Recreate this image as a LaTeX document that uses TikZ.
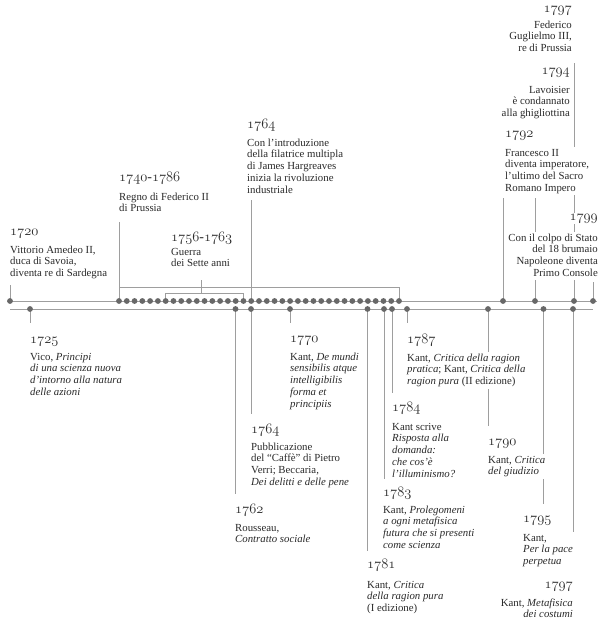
\documentclass[tikz,border=0pt]{standalone}
\usepackage{fontspec}
\setmainfont{Liberation Serif}
\usetikzlibrary{backgrounds}
\definecolor{txt}{HTML}{2A2A2A}
\definecolor{ln}{HTML}{9E9E9E}
\definecolor{dotc}{HTML}{686868}
\newcommand\lblL[1]{\begin{tabular}[t]{@{}l@{}}#1\end{tabular}}
\newcommand\lblR[1]{\begin{tabular}[t]{@{}r@{}}#1\end{tabular}}
\newcommand\yr[1]{{\usefont{OML}{cmm}{m}{it}#1}}
\begin{document}
\begin{tikzpicture}[x=1pt,y=-1pt,
  yearL/.style={anchor=base west, font=\fontsize{14}{14}\selectfont, text=txt, fill=white, inner xsep=1pt, inner ysep=1pt},
  yearR/.style={yearL, anchor=base east},
  descL/.style={anchor=base west, font=\fontsize{10.8}{11.8}\selectfont, text=txt, fill=white, inner xsep=1pt, inner ysep=0.5pt},
  descR/.style={descL, anchor=base east},
  conn/.style={draw=ln, line width=0.9pt},
  axis/.style={draw=ln, line width=1pt},
  dotfill/.style={fill=dotc}
]
\useasboundingbox (0,0) rectangle (600,622);

% ---------- dot coordinates ----------
\coordinate (u1720) at (10,301);
\foreach \k in {0,...,36} \coordinate (ub\k) at ({119+\k*7.778},301);
\coordinate (u1792) at (503,301);
\coordinate (u1794) at (535,301);
\coordinate (u1797) at (574,301);
\coordinate (u1799) at (593,301);
\coordinate (l1725) at (30,309);
\coordinate (l1762) at (235.5,309);
\coordinate (l1764) at (251,309);
\coordinate (l1770) at (290,309);
\coordinate (l1781) at (367.5,309);
\coordinate (l1783) at (384,309);
\coordinate (l1784) at (392,309);
\coordinate (l1787) at (407,309);
\coordinate (l1790) at (488,309);
\coordinate (l1795) at (543.5,309);
\coordinate (l1797) at (573,309);
\coordinate (uS) at (7,301);
\coordinate (uE) at (597,301);
\coordinate (lS) at (10,309);
\coordinate (lE) at (593,309);

% ---------- free ends of connectors ----------
\coordinate (t1720) at (10,285);
\coordinate (t1740) at (119,222);
\coordinate (bL) at (119,287);
\coordinate (bR) at (ub36 |- bL);
\coordinate (sL) at (ub6 |- 0,293);
\coordinate (sR) at (ub16 |- 0,293);
\coordinate (sM) at (201,293);
\coordinate (sT) at (201,280);
\coordinate (t1764u) at (ub17 |- 0,200);
\coordinate (t1792) at (503,198);
\coordinate (t1794) at (535,198);
\coordinate (t1797u) at (574,63);
\coordinate (t1799) at (593,282);
\coordinate (t1725) at (30,323);
\coordinate (t1762) at (235.5,494);
\coordinate (t1764l) at (251,414);
\coordinate (t1770) at (290,323);
\coordinate (t1781) at (367.5,551);
\coordinate (t1783) at (384,479);
\coordinate (t1784) at (392,393);
\coordinate (t1787) at (407,323);
\coordinate (t1790) at (488,426);
\coordinate (t1795) at (543.5,504);
\coordinate (t1797l) at (573,569);

% ---------- texts (upper) ----------
\node[yearL] (y1720) at (9,235) {\yr{1720}};
\node[descL] (d1720) at (9,253) {\lblL{Vittorio Amedeo II,\\duca di Savoia,\\diventa re di Sardegna}};
\node[yearL] (y1740) at (118,181) {\yr{1740}-\yr{1786}};
\node[descL] (d1740) at (118,200) {\lblL{Regno di Federico II\\di Prussia}};
\node[yearL] (y1756) at (170,241) {\yr{1756}-\yr{1763}};
\node[descL] (d1756) at (170,255) {\lblL{Guerra\\dei Sette anni}};
\node[yearL] (y1764u) at (246,128) {\yr{1764}};
\node[descL] (d1764u) at (246,146) {\lblL{Con l’introduzione\\della filatrice multipla\\di James Hargreaves\\inizia la rivoluzione\\industriale}};
\node[yearR] (y1797u) at (573,12) {\yr{1797}};
\node[descR] (d1797u) at (573,28) {\lblR{Federico\\Guglielmo III,\\re di Prussia}};
\node[yearR] (y1794) at (571,74) {\yr{1794}};
\node[descR] (d1794) at (571,93) {\lblR{Lavoisier\\è condannato\\alla ghigliottina}};
\node[yearL] (y1792) at (504,137) {\yr{1792}};
\node[descL] (d1792) at (504,156) {\lblL{Francesco II\\diventa imperatore,\\l’ultimo del Sacro\\Romano Impero}};
\node[yearR] (y1799) at (599,220) {\yr{1799}};
\node[descR] (d1799) at (599,241) {\lblR{Con il colpo di Stato\\del 18 brumaio\\Napoleone diventa\\Primo Console}};

% ---------- texts (lower) ----------
\node[yearL] (y1725) at (29,343) {\yr{1725}};
\node[descL] (d1725) at (29,360) {\lblL{Vico, \textit{Principi}\\\textit{di una scienza nuova}\\\textit{d’intorno alla natura}\\\textit{delle azioni}}};
\node[yearL] (y1770) at (289,342) {\yr{1770}};
\node[descL] (d1770) at (289,360) {\lblL{Kant, \textit{De mundi}\\\textit{sensibilis atque}\\\textit{intelligibilis}\\\textit{forma et}\\\textit{principiis}}};
\node[yearL] (y1787) at (406,343) {\yr{1787}};
\node[descL] (d1787) at (406,361) {\lblL{Kant, \textit{Critica della ragion}\\\textit{pratica}; Kant, \textit{Critica della}\\\textit{ragion pura} (II edizione)}};
\node[yearL] (y1784) at (391,411) {\yr{1784}};
\node[descL] (d1784) at (391,430) {\lblL{Kant scrive\\\textit{Risposta alla}\\\textit{domanda:}\\\textit{che cos’è}\\\textit{l’illuminismo?}}};
\node[yearL] (y1764l) at (250,433) {\yr{1764}};
\node[descL] (d1764l) at (250,450) {\lblL{Pubblicazione\\del “Caffè” di Pietro\\Verri; Beccaria,\\\textit{Dei delitti e delle pene}}};
\node[yearL] (y1790) at (487,445) {\yr{1790}};
\node[descL] (d1790) at (487,463) {\lblL{Kant, \textit{Critica}\\\textit{del giudizio}}};
\node[yearL] (y1762) at (234,513) {\yr{1762}};
\node[descL] (d1762) at (234,531) {\lblL{Rousseau,\\\textit{Contratto sociale}}};
\node[yearL] (y1783) at (382,496) {\yr{1783}};
\node[descL] (d1783) at (382,513) {\lblL{Kant, \textit{Prolegomeni}\\\textit{a ogni metafisica}\\\textit{futura che si presenti}\\\textit{come scienza}}};
\node[yearL] (y1795) at (522,522) {\yr{1795}};
\node[descL] (d1795) at (522,541) {\lblL{Kant,\\\textit{Per la pace}\\\textit{perpetua}}};
\node[yearL] (y1781) at (366,568) {\yr{1781}};
\node[descL] (d1781) at (366,588) {\lblL{Kant, \textit{Critica}\\\textit{della ragion pura}\\(I edizione)}};
\node[yearR] (y1797l) at (574,588) {\yr{1797}};
\node[descR] (d1797l) at (574,606) {\lblR{Kant, \textit{Metafisica}\\\textit{dei costumi}}};

% ---------- lines (behind texts) ----------
\begin{scope}[on background layer]
  \fill[white] (0,0) rectangle (600,622);
  \draw[axis] (uS) -- (uE);
  \draw[axis] (lS) -- (lE);
  \draw[conn] (t1720) -- (u1720);
  \draw[conn] (t1740) -- (ub0);
  \draw[conn] (bL) -- (bR) -- (ub36);
  \draw[conn] (ub6) -- (sL) -- (sR) -- (ub16);
  \draw[conn] (sT) -- (sM);
  \draw[conn] (t1764u) -- (ub17);
  \draw[conn] (t1792) -- (u1792);
  \draw[conn] (t1794) -- (u1794);
  \draw[conn] (t1797u) -- (u1797);
  \draw[conn] (t1799) -- (u1799);
  \draw[conn] (l1725) -- (t1725);
  \draw[conn] (l1762) -- (t1762);
  \draw[conn] (l1764) -- (t1764l);
  \draw[conn] (l1770) -- (t1770);
  \draw[conn] (l1781) -- (t1781);
  \draw[conn] (l1783) -- (t1783);
  \draw[conn] (l1784) -- (t1784);
  \draw[conn] (l1787) -- (t1787);
  \draw[conn] (l1790) -- (t1790);
  \draw[conn] (l1795) -- (t1795);
  \draw[conn] (l1797) -- (t1797l);
\end{scope}

% ---------- dots ----------
\foreach \c in {u1720,u1792,u1794,u1797,u1799,l1725,l1762,l1764,l1770,l1781,l1783,l1784,l1787,l1790,l1795,l1797}
  \fill[dotfill] (\c) circle[radius=2.9pt];
\foreach \k in {0,...,36} \fill[dotfill] (ub\k) circle[radius=2.9pt];
\end{tikzpicture}
\end{document}
